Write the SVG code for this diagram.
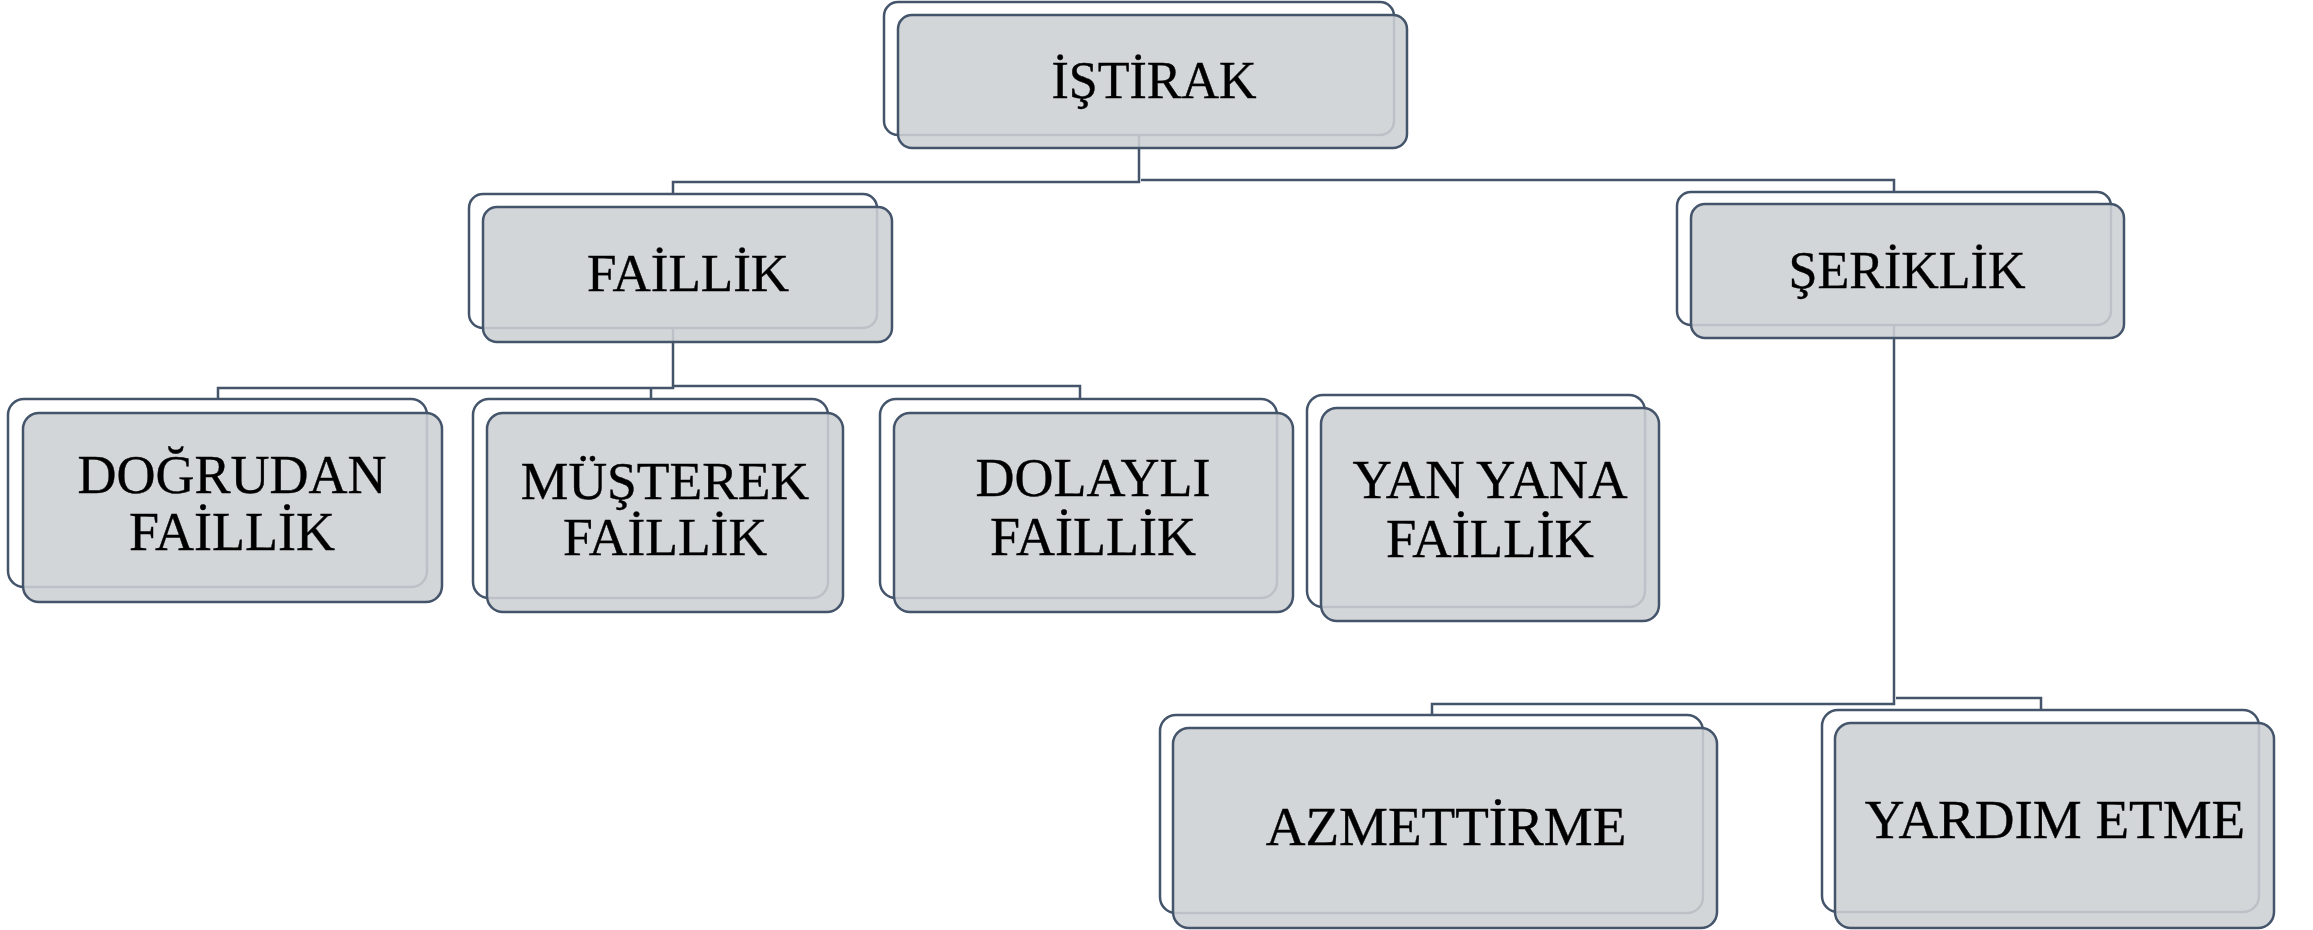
<svg xmlns="http://www.w3.org/2000/svg" width="2313" height="930" viewBox="0 0 2313 930">
<style>
.back{fill:#ffffff;stroke:#44546a;stroke-width:2.5}
.front{fill:#cdd0d4;fill-opacity:0.88;stroke:#44546a;stroke-width:2.5}
.conn{fill:none;stroke:#44546a;stroke-width:2.5}
.t{font-family:"Liberation Serif","Times New Roman",serif;font-size:52px;fill:#000;stroke:#000;stroke-width:0.4;text-anchor:middle}
</style>
<rect width="2313" height="930" fill="#ffffff"/>
<g id="connectors">
<path class="conn" d="M1139,135 V182 H673 V194"/>
<path class="conn" d="M1141,180 H1894 V192"/>
<path class="conn" d="M673,328 V388 H218 V399"/>
<path class="conn" d="M673,386 H1080 V399"/>
<path class="conn" d="M651,388 V399"/>
<path class="conn" d="M1894,325 V704 H1432 V715"/>
<path class="conn" d="M1896,698 H2041 V710"/>
</g>
<g id="istirak">
<rect class="back" x="884" y="2" width="510" height="133" rx="14"/>
<rect class="front" x="898" y="15" width="509" height="133" rx="14"/>
<text class="t" x="1154" y="98">İŞTİRAK</text>
</g>
<g id="faillik">
<rect class="back" x="469" y="194" width="408" height="134" rx="14"/>
<rect class="front" x="483" y="207" width="409" height="135" rx="14"/>
<text class="t" x="688" y="291" style="font-size:53px">FAİLLİK</text>
</g>
<g id="seriklik">
<rect class="back" x="1677" y="192" width="434" height="133" rx="14"/>
<rect class="front" x="1691" y="204" width="433" height="134" rx="14"/>
<text class="t" x="1907" y="288">ŞERİKLİK</text>
</g>
<g id="dogrudan">
<rect class="back" x="8" y="399" width="419" height="188" rx="16"/>
<rect class="front" x="23" y="413" width="419" height="189" rx="16"/>
<text class="t" x="232" y="493" style="font-size:54px">DOĞRUDAN</text>
<text class="t" x="232" y="550" style="font-size:54px">FAİLLİK</text>
</g>
<g id="musterek">
<rect class="back" x="473" y="399" width="355" height="199" rx="16"/>
<rect class="front" x="487" y="413" width="356" height="199" rx="16"/>
<text class="t" x="665" y="499" style="font-size:53.5px">MÜŞTEREK</text>
<text class="t" x="665" y="555" style="font-size:53.5px">FAİLLİK</text>
</g>
<g id="dolayli">
<rect class="back" x="880" y="399" width="397" height="199" rx="16"/>
<rect class="front" x="894" y="413" width="399" height="199" rx="16"/>
<text class="t" x="1093" y="496" style="font-size:54px">DOLAYLI</text>
<text class="t" x="1093" y="555" style="font-size:54px">FAİLLİK</text>
</g>
<g id="yanyana">
<rect class="back" x="1307" y="395" width="338" height="212" rx="16"/>
<rect class="front" x="1321" y="408" width="338" height="213" rx="16"/>
<text class="t" x="1490" y="498" style="font-size:54.5px">YAN YANA</text>
<text class="t" x="1490" y="557" style="font-size:54.5px">FAİLLİK</text>
</g>
<g id="azmettirme">
<rect class="back" x="1160" y="715" width="543" height="198" rx="16"/>
<rect class="front" x="1173" y="728" width="544" height="200" rx="16"/>
<text class="t" x="1446" y="845" style="font-size:55px">AZMETTİRME</text>
</g>
<g id="yardim">
<rect class="back" x="1822" y="710" width="437" height="202" rx="16"/>
<rect class="front" x="1835" y="723" width="439" height="205" rx="16"/>
<text class="t" x="2055" y="838" style="font-size:55px">YARDIM ETME</text>
</g>
</svg>
